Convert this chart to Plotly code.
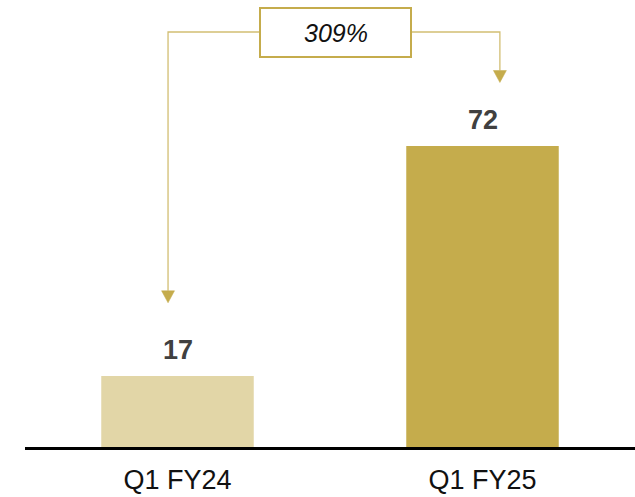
import plotly.graph_objects as go

categories = ["Q1 FY24", "Q1 FY25"]
values = [17, 72]
bar_colors = ["#E2D6A7", "#C5AC4C"]
growth_label = "309%"

GOLD = "#C5AC4C"
LINE_GOLD = "#D2BE73"
FONT = "Liberation Sans, Arial, sans-serif"

W, H = 635, 497
ML, MB = 25, 50
px_per_unit = 4.18
y_max = (H - MB) / px_per_unit

fig = go.Figure()
fig.add_trace(go.Bar(
    x=list(range(len(categories))),
    y=values,
    marker=dict(color=bar_colors, line=dict(width=0)),
    width=0.5,
    hoverinfo="skip",
))

# value labels
for i, v in enumerate(values):
    fig.add_annotation(
        x=i, y=v, xref="x", yref="y",
        text=f"<b>{v}</b>", showarrow=False,
        yanchor="middle", yshift=26,
        font=dict(family=FONT, size=27, color="#404040"),
    )

# connector geometry in data units
top_y = (H - MB - 32) / px_per_unit
left_x = 0 - 0.031
right_x = 1 + 0.057
left_tip = values[0] + 17.5
right_tip = values[1] + 15.2
head_h = 12 / px_per_unit
head_w = 6.5 / 305

conn = dict(color=LINE_GOLD, width=1.3)
fig.add_shape(type="path", xref="x", yref="y",
              path=f"M {left_x} {left_tip + head_h} L {left_x} {top_y} L {right_x} {top_y} L {right_x} {right_tip + head_h}",
              line=conn)
for cx, tip in [(left_x, left_tip), (right_x, right_tip)]:
    fig.add_shape(type="path", xref="x", yref="y",
                  path=f"M {cx - head_w} {tip + head_h} L {cx + head_w} {tip + head_h} L {cx} {tip} Z",
                  fillcolor=GOLD, line=dict(color=GOLD, width=0.5))

# growth box
box_x0 = (260 - ML) / 305 - 0.5
box_x1 = (411 - ML) / 305 - 0.5
box_y0 = (H - MB - 57) / px_per_unit
box_y1 = (H - MB - 8) / px_per_unit
fig.add_shape(type="rect", xref="x", yref="y",
              x0=box_x0, x1=box_x1, y0=box_y0, y1=box_y1,
              fillcolor="white", line=dict(color=GOLD, width=2))
fig.add_annotation(
    x=(box_x0 + box_x1) / 2, y=(box_y0 + box_y1) / 2, xref="x", yref="y",
    text=f"<i>{growth_label}</i>", showarrow=False,
    font=dict(family=FONT, size=25, color="#111111"),
)

fig.update_layout(
    width=W, height=H,
    margin=dict(l=ML, r=0, t=0, b=MB),
    plot_bgcolor="white", paper_bgcolor="white",
    showlegend=False,
    xaxis=dict(
        range=[-0.5, 1.5], tickmode="array",
        tickvals=list(range(len(categories))), ticktext=categories,
        showgrid=False, zeroline=False,
        showline=True, linecolor="black", linewidth=2.5,
        ticks="", ticklabelstandoff=7,
        tickfont=dict(family=FONT, size=27, color="#111111"),
        fixedrange=True,
    ),
    yaxis=dict(range=[0, y_max], visible=False, fixedrange=True),
)

fig.write_html("out.html")
